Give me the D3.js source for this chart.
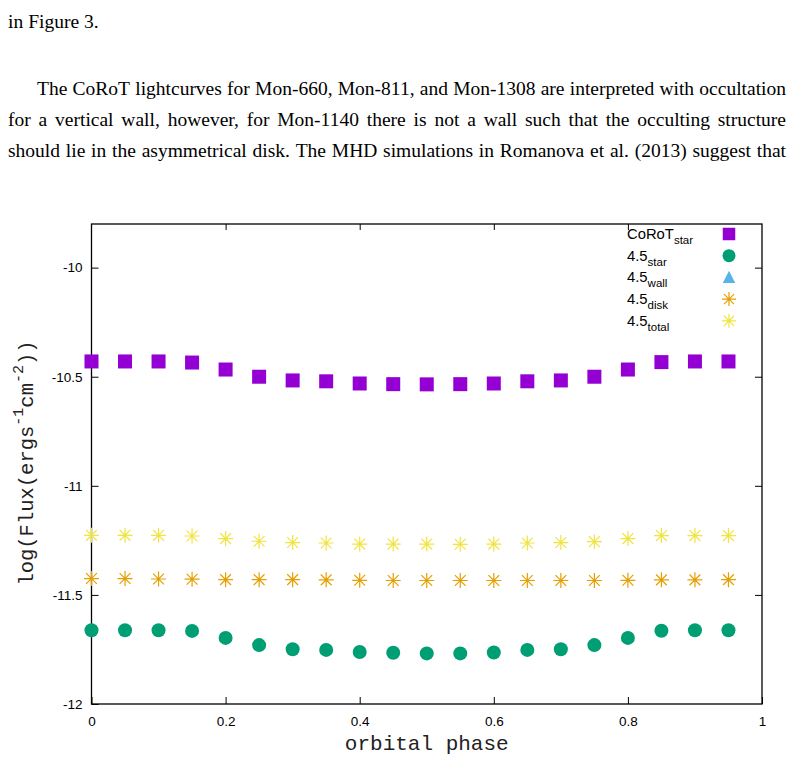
<!DOCTYPE html>
<html>
<head>
<meta charset="utf-8">
<script src="https://cdn.jsdelivr.net/npm/d3@7"></script>
<style>
  html, body { margin: 0; padding: 0; background: #fff; }
  svg { display: block; }
</style>
</head>
<body>
<svg id="chart" width="796" height="759"></svg>
<script>
// ---- data ----
const phases = [0, 0.05, 0.1, 0.15, 0.2, 0.25, 0.3, 0.35, 0.4, 0.45, 0.5, 0.55, 0.6, 0.65, 0.7, 0.75, 0.8, 0.85, 0.9, 0.95];
const corotStar = [-10.430, -10.430, -10.430, -10.435, -10.467, -10.500, -10.517, -10.521, -10.531, -10.534, -10.535, -10.534, -10.531, -10.521, -10.517, -10.500, -10.467, -10.433, -10.430, -10.430];
const star45 = [-11.662, -11.662, -11.662, -11.665, -11.697, -11.730, -11.749, -11.752, -11.762, -11.765, -11.768, -11.768, -11.764, -11.752, -11.749, -11.730, -11.697, -11.664, -11.662, -11.662];
const wall45 = []; // no points visible in the plotted range
const disk45 = [-11.425, -11.425, -11.427, -11.428, -11.430, -11.430, -11.430, -11.431, -11.433, -11.434, -11.434, -11.434, -11.434, -11.434, -11.434, -11.434, -11.433, -11.431, -11.431, -11.430];
const total45 = [-11.227, -11.227, -11.227, -11.230, -11.242, -11.254, -11.260, -11.262, -11.267, -11.267, -11.267, -11.268, -11.267, -11.262, -11.260, -11.256, -11.242, -11.228, -11.228, -11.228];
const xTicks = [0, 0.2, 0.4, 0.6, 0.8, 1];
const xTickLabels = ["0", "0.2", "0.4", "0.6", "0.8", "1"];
const yTicks = [-12, -11.5, -11, -10.5, -10];
const yTickLabels = ["-12", "-11.5", "-11", "-10.5", "-10"];
const legendLabels = [["CoRoT", "star"], ["4.5", "star"], ["4.5", "wall"], ["4.5", "disk"], ["4.5", "total"]];
const colors = ["#9400d3", "#009e73", "#56b4e9", "#e69f00", "#f0e442"];
const shapes = ["square", "circle", "triangle", "asterisk", "asterisk"];
const seriesValues = [corotStar, star45, wall45, disk45, total45];

const paraLines = [
  {text: "in Figure 3.", y: 28, x0: 8, x1: 786, justify: false},
  {text: "The CoRoT lightcurves for Mon-660, Mon-811, and Mon-1308 are interpreted with occultation", y: 95, x0: 37, x1: 786, justify: true},
  {text: "for a vertical wall, however, for Mon-1140 there is not a wall such that the occulting structure", y: 126, x0: 8, x1: 786, justify: true},
  {text: "should lie in the asymmetrical disk. The MHD simulations in Romanova et al. (2013) suggest that", y: 157, x0: 8, x1: 786, justify: true}
];

// ---- layout ----
const svg = d3.select("#chart");
const L = 91.5, R = 762, T = 224, B = 704;
const x = d3.scaleLinear().domain([0, 1]).range([L, R]);
const y = d3.scaleLinear().domain([-12, -9.8]).range([B, T]);

// ---- paragraph text (justified) ----
const pg = svg.append("g").attr("font-family", "'Liberation Serif', 'Times New Roman', serif").attr("font-size", 19.5).attr("fill", "#000");
paraLines.forEach(line => {
  const words = line.text.split(" ");
  const g = pg.append("g");
  const nodes = words.map(w => g.append("text").attr("y", line.y).text(w));
  const widths = nodes.map(n => n.node().getComputedTextLength());
  const total = d3.sum(widths);
  const target = line.x1 - line.x0;
  let gap = 5;
  if (line.justify) gap = (target - total) / (words.length - 1);
  if (gap < 3) {
    g.remove();
    pg.append("text").attr("x", line.x0).attr("y", line.y)
      .attr("textLength", target).attr("lengthAdjust", "spacingAndGlyphs").text(line.text);
    return;
  }
  let cx = line.x0;
  nodes.forEach((n, i) => { n.attr("x", cx); cx += widths[i] + gap; });
});

// ---- chart ----
const chart = svg.append("g");
const axisFont = "'Liberation Sans', Arial, Helvetica, sans-serif";

chart.append("rect").attr("x", L).attr("y", T).attr("width", R - L).attr("height", B - T)
  .attr("fill", "none").attr("stroke", "#000").attr("stroke-width", 1.3);

const xAxisB = d3.axisBottom(x).tickValues(xTicks).tickSizeInner(-7).tickSizeOuter(0).tickFormat((d, i) => xTickLabels[i]).tickPadding(12);
const xAxisT = d3.axisTop(x).tickValues(xTicks.slice(1, -1)).tickSizeInner(-6).tickSizeOuter(0).tickFormat("");
const yAxisL = d3.axisLeft(y).tickValues(yTicks).tickSizeInner(-7).tickSizeOuter(0).tickFormat((d, i) => yTickLabels[i]).tickPadding(9);
const yAxisR = d3.axisRight(y).tickValues(yTicks.slice(1)).tickSizeInner(-7).tickSizeOuter(0).tickFormat("");

function styleAxis(g) {
  g.select(".domain").remove();
  g.selectAll(".tick line").attr("stroke", "#000").attr("stroke-width", 1);
  g.selectAll(".tick text").attr("font-family", axisFont).attr("font-size", 13.5).attr("fill", "#000");
}
chart.append("g").attr("transform", `translate(0,${B})`).call(xAxisB).call(styleAxis);
chart.append("g").attr("transform", `translate(0,${T})`).call(xAxisT).call(styleAxis);
chart.append("g").attr("transform", `translate(${L},0)`).call(yAxisL).call(styleAxis);
chart.append("g").attr("transform", `translate(${R},0)`).call(yAxisR).call(styleAxis);

const mono = "'Liberation Mono', 'Courier New', monospace";
chart.append("text").attr("x", (L + R) / 2).attr("y", 750).attr("text-anchor", "middle")
  .attr("font-family", mono).attr("font-size", 21).attr("fill", "#222").text("orbital phase");

const yl = chart.append("text").attr("transform", "translate(33,463) rotate(-90)").attr("text-anchor", "middle")
  .attr("font-family", mono).attr("font-size", 20.5).attr("fill", "#222");
yl.append("tspan").text("log(Flux(ergs");
yl.append("tspan").attr("dy", -10).attr("font-size", 15).text("-1");
yl.append("tspan").attr("dy", 10).text("cm");
yl.append("tspan").attr("dy", -10).attr("font-size", 15).text("-2");
yl.append("tspan").attr("dy", 10).text("))");

function drawMarker(g, shape, color, cx, cy, s) {
  if (shape === "square") {
    g.append("rect").attr("x", cx - s / 2).attr("y", cy - s / 2).attr("width", s).attr("height", s).attr("fill", color);
  } else if (shape === "circle") {
    g.append("circle").attr("cx", cx).attr("cy", cy).attr("r", s / 2).attr("fill", color);
  } else if (shape === "triangle") {
    const h = s * 0.9;
    g.append("path").attr("d", `M${cx},${cy - h / 2 - 1}L${cx + s / 2},${cy + h / 2}L${cx - s / 2},${cy + h / 2}Z`).attr("fill", color);
  } else if (shape === "asterisk") {
    const r = s / 2, d = r * 0.72;
    g.append("path")
      .attr("d", `M${cx - r},${cy}L${cx + r},${cy}M${cx},${cy - r}L${cx},${cy + r}M${cx - d},${cy - d}L${cx + d},${cy + d}M${cx - d},${cy + d}L${cx + d},${cy - d}`)
      .attr("stroke", color).attr("stroke-width", 1.2).attr("fill", "none");
  }
}

const plotG = chart.append("g");
seriesValues.forEach((vals, si) => {
  const sg = plotG.append("g");
  vals.forEach((v, i) => {
    drawMarker(sg, shapes[si], colors[si], x(phases[i]), y(v), shapes[si] === "asterisk" ? 15 : 14);
  });
});

const lg = chart.append("g").attr("font-family", axisFont).attr("fill", "#000");
legendLabels.forEach((lab, i) => {
  const ly = 239 + i * 21.7;
  const t = lg.append("text").attr("x", 627).attr("y", ly).attr("font-size", 14.8);
  t.append("tspan").text(lab[0]);
  t.append("tspan").attr("dy", 5).attr("font-size", 11.5).text(lab[1]);
  drawMarker(lg, shapes[i], colors[i], 729, ly - 5, shapes[i] === "asterisk" ? 14 : (shapes[i] === "circle" ? 13 : 12.5));
});
</script>
</body>
</html>
